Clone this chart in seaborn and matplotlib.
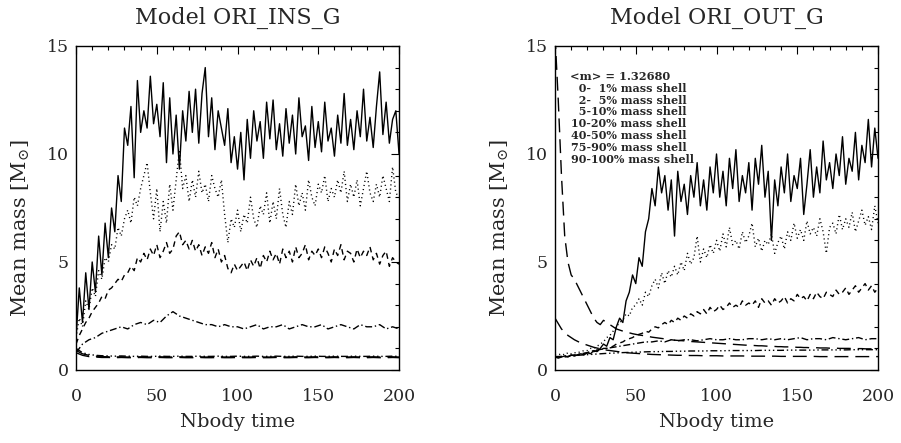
import numpy as np
import pandas as pd
import matplotlib
matplotlib.use("Agg")
import matplotlib.pyplot as plt
import seaborn as sns
from matplotlib.ticker import MultipleLocator

# ---------------- data ----------------
t_fine = np.arange(0, 201, 2)    # Nbody time grid (step 2)
t_coarse = np.arange(0, 201, 4)  # Nbody time grid (step 4)

shell_labels = ["\u20070-\u20071% mass shell", "\u20072-\u20075% mass shell", "\u20075-10% mass shell",
                "10-20% mass shell", "40-50% mass shell", "75-90% mass shell", "90-100% mass shell"]
mean_m_text = "<m> = 1.32680"
titles = ["Model ORI_INS_G", "Model ORI_OUT_G"]

# Model ORI_INS_G
ins_s1 = [1.5, 3.8, 2.2, 4.5, 2.8, 5.0, 3.6, 6.2, 4.4, 6.8, 5.2, 7.5, 6.4, 9.0, 7.8, 11.2,
          10.4, 12.2, 8.9, 13.4, 11.0, 12.0, 11.2, 13.6, 11.4, 12.3, 10.8, 13.3, 9.6, 12.6, 10.0,
          11.8, 9.3, 12.0, 10.6, 12.9, 11.0, 13.0, 10.5, 12.8, 14.0, 10.8, 12.6, 10.2, 12.0, 11.2,
          10.4, 12.1, 9.6, 10.8, 9.3, 11.0, 8.8, 11.6, 9.8, 12.0, 10.6, 11.5, 9.8, 12.4, 10.7,
          12.5, 10.2, 11.4, 9.9, 12.1, 10.5, 11.8, 10.0, 12.6, 10.8, 11.3, 9.7, 12.2, 10.3, 11.5,
          10.1, 12.4, 10.6, 11.2, 9.9, 11.8, 10.5, 12.8, 10.4, 11.6, 10.2, 12.0, 10.8, 13.0, 10.6,
          11.7, 10.3, 12.2, 13.8, 10.9, 12.4, 10.5, 11.6, 12.0, 10.0]
ins_s2 = [1.5, 2.4, 2.0, 3.2, 2.8, 3.8, 3.4, 4.6, 4.2, 5.2, 5.0, 5.8, 5.6, 6.6, 6.2, 7.0,
          7.4, 6.8, 8.0, 7.6, 8.4, 9.0, 9.6, 8.2, 7.0, 8.4, 6.4, 7.8, 6.8, 8.6, 7.4,
          8.8, 10.2, 8.4, 9.0, 7.8, 8.8, 8.0, 9.2, 8.2, 8.6, 7.8, 9.0, 8.4, 8.0, 8.8,
          7.2, 5.9, 7.0, 6.6, 7.4, 6.4, 7.2, 6.8, 8.0, 7.0, 6.6, 7.6, 7.2, 8.2, 6.8,
          7.8, 7.0, 8.4, 7.2, 6.6, 7.8, 7.2, 8.6, 7.6, 8.2, 7.4, 8.8, 8.0, 7.6, 8.6,
          8.2, 9.0, 7.8, 8.4, 8.0, 8.8, 8.2, 9.2, 7.8, 8.6, 8.0, 8.8, 7.6, 8.4, 9.2,
          8.2, 7.8, 8.6, 8.0, 9.0, 8.4, 7.8, 9.4, 8.2, 8.0]
ins_s3 = [1.2, 1.6, 1.9, 2.2, 2.4, 2.7, 2.9, 3.1, 3.4, 3.3, 3.7, 3.8, 4.0, 4.2, 4.1, 4.4,
          4.5, 4.8, 4.6, 5.2, 5.0, 5.4, 5.1, 5.6, 5.3, 5.8, 5.2, 5.5, 5.9, 5.4, 5.6,
          6.2, 6.4, 5.8, 6.0, 5.6, 6.0, 5.5, 5.8, 5.3, 5.7, 5.4, 5.9, 5.2, 5.6, 5.0,
          5.3, 4.7, 4.5, 4.9, 4.6, 4.8, 5.0, 4.6, 5.1, 4.8, 5.2, 4.7, 5.3, 5.0, 5.5,
          5.1, 5.4, 4.9, 5.6, 5.2, 5.5, 5.0, 5.7, 5.2, 5.4, 5.8, 5.1, 5.5, 5.3, 5.6,
          5.2, 5.7, 5.4, 5.0, 5.6, 5.3, 5.8, 5.1, 5.5, 5.4, 5.0, 5.6, 5.2, 5.5, 5.3,
          5.7, 5.1, 5.4, 4.9, 5.3, 5.5, 4.8, 5.2, 5.0, 4.9]
ins_s4 = [0.8, 1.2, 1.4, 1.5, 1.7, 1.8, 1.9, 2.0, 1.9, 2.1, 2.2, 2.1, 2.3, 2.2, 2.5, 2.7,
          2.5, 2.4, 2.3, 2.2, 2.1, 2.1, 2.0, 2.1, 2.0, 2.0, 1.9, 2.0, 2.1, 1.9, 2.0,
          2.0, 2.1, 1.9, 2.0, 2.1, 2.0, 2.0, 2.1, 1.9, 2.0, 2.1, 2.0, 1.9, 2.1, 2.0,
          2.0, 2.1, 1.9, 2.0, 1.9]
ins_s5 = [1.0, 0.8, 0.72, 0.68, 0.66, 0.65, 0.64, 0.65, 0.64, 0.63, 0.64, 0.63, 0.63, 0.64, 0.63, 0.63,
          0.64, 0.63, 0.63, 0.64, 0.63, 0.63, 0.64, 0.63, 0.63, 0.64, 0.63, 0.63, 0.64, 0.63, 0.63,
          0.64, 0.63, 0.63, 0.64, 0.63, 0.63, 0.64, 0.63, 0.63, 0.64, 0.63, 0.63, 0.64, 0.63, 0.63,
          0.64, 0.63, 0.63, 0.64, 0.63]
ins_s6 = [0.9, 0.75, 0.68, 0.64, 0.62, 0.61, 0.6, 0.61, 0.6, 0.6, 0.61, 0.6, 0.6, 0.61, 0.6, 0.6,
          0.61, 0.6, 0.6, 0.61, 0.6, 0.6, 0.61, 0.6, 0.6, 0.61, 0.6, 0.6, 0.61, 0.6, 0.6,
          0.61, 0.6, 0.6, 0.61, 0.6, 0.6, 0.61, 0.6, 0.6, 0.61, 0.6, 0.6, 0.61, 0.6, 0.6,
          0.61, 0.6, 0.6, 0.61, 0.6]
ins_s7 = [0.8, 0.68, 0.62, 0.6, 0.58, 0.58, 0.57, 0.58, 0.57, 0.57, 0.58, 0.57, 0.57, 0.58, 0.57, 0.57,
          0.58, 0.57, 0.57, 0.58, 0.57, 0.57, 0.58, 0.57, 0.57, 0.58, 0.57, 0.57, 0.58, 0.57, 0.57,
          0.58, 0.57, 0.57, 0.58, 0.57, 0.57, 0.58, 0.57, 0.57, 0.58, 0.57, 0.57, 0.58, 0.57, 0.57,
          0.58, 0.57, 0.57, 0.58, 0.57]

# Model ORI_OUT_G
out_s1 = [0.6, 0.55, 0.6, 0.65, 0.6, 0.7, 0.65, 0.7, 0.75, 0.7, 0.8, 0.75, 0.9, 0.85, 1.0, 1.2,
          1.1, 1.5, 1.4, 2.0, 2.4, 2.2, 3.2, 3.6, 4.4, 4.0, 5.2, 4.8, 6.4, 7.0, 8.4,
          7.6, 9.4, 8.2, 9.0, 7.4, 8.8, 6.2, 9.2, 7.8, 8.6, 7.2, 9.0, 8.0, 9.6, 7.6,
          8.8, 7.4, 9.4, 8.2, 10.0, 8.0, 9.2, 7.6, 9.8, 8.4, 10.2, 7.8, 9.0, 8.2, 9.6,
          7.4, 9.8, 8.6, 10.4, 8.0, 9.2, 6.0, 8.8, 7.6, 9.4, 8.2, 10.0, 7.8, 9.0, 8.4,
          9.8, 7.2, 8.6, 10.2, 8.0, 9.4, 8.2, 10.6, 8.8, 9.6, 8.4, 10.0, 9.0, 10.8, 8.6,
          9.8, 9.2, 11.0, 8.8, 10.4, 9.6, 11.6, 9.4, 11.2, 9.8]
out_s2 = [0.7, 0.7, 0.75, 0.7, 0.8, 0.75, 0.8, 0.8, 0.85, 0.9, 0.9, 1.0, 1.0, 1.1, 1.2, 1.3,
          1.5, 1.6, 1.8, 2.0, 2.2, 2.3, 2.6, 2.5, 2.9, 3.0, 3.3, 3.0, 3.6, 3.4, 3.9,
          4.2, 3.8, 4.5, 4.0, 4.6, 4.3, 4.8, 4.4, 5.0, 4.6, 5.4, 4.9, 5.2, 6.2, 5.0,
          5.6, 5.2, 5.8, 5.4, 6.0, 5.5, 6.3, 5.7, 6.6, 5.8, 6.0, 5.6, 6.4, 5.9, 6.2,
          6.8, 5.7, 6.1, 5.5, 6.0, 5.8, 6.3, 5.4, 5.9, 6.2, 5.6, 6.4, 6.0, 6.8, 6.1,
          6.5, 6.0, 6.9, 6.3, 6.6, 6.2, 7.0, 6.4, 5.4, 6.6, 6.8, 6.3, 7.2, 6.5, 7.0,
          6.6, 7.3, 6.4, 6.9, 7.4, 6.7, 7.1, 6.5, 7.6, 6.8]
out_s3 = [0.6, 0.6, 0.62, 0.6, 0.63, 0.64, 0.66, 0.7, 0.72, 0.76, 0.8, 0.85, 0.85, 0.9, 0.9, 1.0,
          1.0, 1.05, 1.1, 1.2, 1.25, 1.3, 1.4, 1.45, 1.5, 1.6, 1.65, 1.7, 1.8, 1.75, 1.9,
          2.0, 1.95, 2.1, 2.2, 2.1, 2.3, 2.2, 2.4, 2.3, 2.5, 2.4, 2.6, 2.5, 2.7, 2.6,
          2.8, 2.6, 2.9, 2.7, 2.8, 3.0, 2.8, 2.9, 3.1, 2.9, 3.0, 2.9, 3.2, 3.0, 3.1,
          3.0, 3.2, 2.9, 3.3, 3.1, 3.2, 3.0, 3.3, 3.1, 3.2, 3.4, 3.1, 3.3, 3.2, 3.5,
          3.3, 3.4, 3.2, 3.5, 3.3, 3.6, 3.4, 3.3, 3.6, 3.5, 3.4, 3.7, 3.5, 3.6, 3.8,
          3.5, 3.7, 3.9, 3.6, 3.8, 4.0, 3.7, 3.9, 3.6, 3.8]
out_s4 = [0.6, 0.62, 0.65, 0.7, 0.75, 0.8, 0.9, 0.95, 1.0, 1.05, 1.1, 1.15, 1.2, 1.25, 1.3, 1.3,
          1.35, 1.3, 1.4, 1.35, 1.4, 1.4, 1.35, 1.4, 1.45, 1.4, 1.4, 1.45, 1.4, 1.4, 1.45,
          1.45, 1.4, 1.45, 1.4, 1.45, 1.4, 1.45, 1.5, 1.4, 1.45, 1.45, 1.4, 1.5, 1.45, 1.4,
          1.45, 1.5, 1.4, 1.45, 1.45]
out_s5 = [0.62, 0.63, 0.65, 0.67, 0.69, 0.71, 0.73, 0.75, 0.77, 0.78, 0.8, 0.81, 0.82, 0.83, 0.84, 0.85,
          0.85, 0.86, 0.86, 0.87, 0.87, 0.88, 0.88, 0.88, 0.89, 0.89, 0.89, 0.9, 0.9, 0.9, 0.9,
          0.9, 0.91, 0.91, 0.91, 0.91, 0.92, 0.92, 0.92, 0.92, 0.92, 0.93, 0.93, 0.93, 0.93, 0.93,
          0.94, 0.94, 0.94, 0.94, 0.94]
out_s6 = [2.4, 1.9, 1.6, 1.4, 1.25, 1.15, 1.05, 0.98, 0.92, 0.88, 0.84, 0.8, 0.78, 0.76, 0.74, 0.72,
          0.71, 0.7, 0.69, 0.68, 0.68, 0.67, 0.67, 0.66, 0.66, 0.66, 0.65, 0.65, 0.65, 0.65, 0.64,
          0.64, 0.64, 0.64, 0.64, 0.63, 0.63, 0.63, 0.63, 0.63, 0.63, 0.62, 0.62, 0.62, 0.62, 0.62,
          0.62, 0.62, 0.62, 0.62, 0.62]
out_s7 = [15.5, 12.5, 9.0, 6.2, 5.0, 4.4, 4.2, 3.9, 3.6, 3.3, 3.0, 2.7, 2.4, 2.2, 2.1, 2.3,
          2.2, 2.1, 2.0, 1.9, 1.85, 1.8, 1.75, 1.72, 1.68, 1.65, 1.62, 1.6, 1.57, 1.55, 1.52,
          1.5, 1.48, 1.46, 1.44, 1.42, 1.4, 1.38, 1.37, 1.36, 1.35, 1.34, 1.32, 1.31, 1.3, 1.29,
          1.28, 1.27, 1.26, 1.25, 1.24, 1.23, 1.22, 1.21, 1.2, 1.19, 1.18, 1.17, 1.16, 1.15, 1.15,
          1.14, 1.13, 1.12, 1.12, 1.11, 1.1, 1.1, 1.09, 1.08, 1.08, 1.07, 1.07, 1.06, 1.06, 1.05,
          1.05, 1.04, 1.04, 1.03, 1.03, 1.03, 1.02, 1.02, 1.02, 1.01, 1.01, 1.01, 1.0, 1.0, 1.0,
          1.0, 0.99, 0.99, 0.99, 0.99, 0.98, 0.98, 0.98, 0.98, 0.97]

ins_series = [(t_fine, ins_s1), (t_fine, ins_s2), (t_fine, ins_s3), (t_coarse, ins_s4),
              (t_coarse, ins_s5), (t_coarse, ins_s6), (t_coarse, ins_s7)]
out_series = [(t_fine, out_s1), (t_fine, out_s2), (t_fine, out_s3), (t_coarse, out_s4),
              (t_coarse, out_s5), (t_coarse, out_s6), (t_fine, out_s7)]

# IDL-like line styles, one per shell
styles = ['-', (0, (0.8, 2.2)), (0, (4, 3)), (0, (5, 2, 1, 2)),
          (0, (5, 2, 1, 2, 1, 2, 1, 2)), (0, (10, 5)), (0, (10, 5))]

# ---------------- plot ----------------
sns.set_style("white")
plt.rcParams['font.family'] = ['DejaVu Serif']
plt.rcParams['mathtext.fontset'] = 'dejavuserif'

fig = plt.figure(figsize=(9.01, 4.43), dpi=100)
ax1 = fig.add_axes([0.0844, 0.1648, 0.3585, 0.7314])
ax2 = fig.add_axes([0.616, 0.1648, 0.3585, 0.7314])

for ax, series, title in [(ax1, ins_series, titles[0]), (ax2, out_series, titles[1])]:
    for (tt, vals), ls in zip(series, styles):
        df = pd.DataFrame({"t": tt, "m": vals})
        sns.lineplot(data=df, x="t", y="m", ax=ax, color="black", linewidth=1.0,
                     linestyle=ls, estimator=None, sort=False, legend=False)
    ax.set_xlim(0, 200)
    ax.set_ylim(0, 15)
    ax.xaxis.set_major_locator(MultipleLocator(50))
    ax.xaxis.set_minor_locator(MultipleLocator(10))
    ax.yaxis.set_major_locator(MultipleLocator(5))
    ax.yaxis.set_minor_locator(MultipleLocator(1))
    ax.tick_params(which='both', direction='in', top=True, right=True, color='black', width=0.8)
    ax.tick_params(which='major', length=6)
    ax.tick_params(which='minor', length=3)
    ax.tick_params(axis='x', which='major', pad=13, labelsize=12.5)
    ax.tick_params(axis='y', which='major', pad=5, labelsize=12.5)
    for sp in ax.spines.values():
        sp.set_color('black')
        sp.set_linewidth(1.0)
    ax.set_title(title, fontsize=16, pad=16)
    ax.set_xlabel("Nbody time", fontsize=14, labelpad=6)
    ax.set_ylabel(r"Mean mass [M$_{\odot}$]", fontsize=15)
    ax.yaxis.set_label_coords(-0.135, 0.438)

# legend-like annotation block in the right panel
ax2.text(0.046, 0.906, mean_m_text, transform=ax2.transAxes, fontsize=8.2,
         fontweight='bold', va='center', ha='left')
for i, lab in enumerate(shell_labels):
    ax2.text(0.05, 0.906 - 0.0365 * (i + 1), lab, transform=ax2.transAxes,
             fontsize=8, fontweight='bold', va='center', ha='left')

fig.savefig("out.png", dpi=100)
